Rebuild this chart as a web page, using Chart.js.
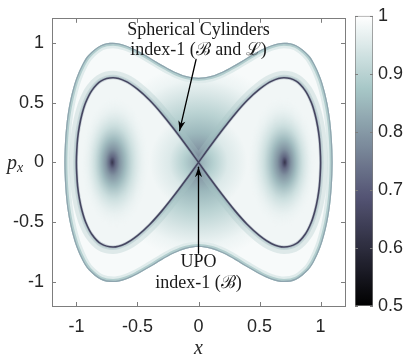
<!DOCTYPE html>
<html><head><meta charset="utf-8">
<script src="https://cdn.jsdelivr.net/npm/chart.js@4.4.1/dist/chart.umd.min.js"></script>
<style>
html,body{margin:0;padding:0;background:#fff;}
#wrap{position:relative;width:406px;height:357px;}
#wrap canvas{position:absolute;left:0;top:0;}
</style></head><body>
<div id="wrap"><canvas id="main" width="406" height="357"></canvas><canvas id="cbar" width="406" height="357"></canvas></div>
<script>
// ---------------- data ----------------
const xTicks = [-1, -0.5, 0, 0.5, 1];
const xTickLabels = ['-1', '-0.5', '0', '0.5', '1'];
const yTicks = [-1, -0.5, 0, 0.5, 1];
const yTickLabels = ['-1', '-0.5', '0', '0.5', '1'];
const cbTicks = [0.5, 0.6, 0.7, 0.8, 0.9, 1];
const cbTickLabels = ['0.5', '0.6', '0.7', '0.8', '0.9', '1'];
const cbRange = [0.5, 1];
const xRange = [-1.2, 1.2];
const yRange = [-1.2, 1.2];

// outer edge of the energy surface, first quadrant: right tip -> top -> x = 0
const boundaryQ1X = [1.099, 1.097, 1.092, 1.084, 1.072, 1.055, 1.032, 1.0, 0.95, 0.9, 0.8, 0.7, 0.6, 0.5, 0.4, 0.3, 0.2, 0.1, 0];
const boundaryQ1P = [0, 0.1, 0.2, 0.3, 0.4, 0.5, 0.6, 0.707, 0.822, 0.899, 0.98, 1.0, 0.98, 0.935, 0.877, 0.815, 0.76, 0.721, 0.707];

// dark separatrix ridge (spherical cylinders), upper half of right lobe: saddle -> top -> right tip
const sepQ1X = [0, 0.1, 0.2, 0.3, 0.4, 0.5, 0.6, 0.7, 0.8, 0.874, 0.924, 0.955, 0.976, 0.99, 0.997, 1.0];
const sepQ1P = [0, 0.141, 0.277, 0.405, 0.519, 0.612, 0.679, 0.707, 0.679, 0.6, 0.5, 0.4, 0.3, 0.2, 0.1, 0];

// dark minima at the well centres and the saddle (UPO)
const wellX = [-0.707, 0.707];
const wellP = [0, 0];
const saddle = [0, 0];

// annotation arrows (tail -> head)
const arrowSCx = [-0.02, -0.155];
const arrowSCy = [0.86, 0.265];
const arrowUPOx = [0, 0];
const arrowUPOy = [-0.76, -0.04];

// ---------------- helpers ----------------
function zipPts(xs, ys) { return xs.map((x, i) => ({x, y: ys[i]})); }
// closed curve from one quadrant using the plot's two mirror symmetries
function quadLoop(q1) {
  const q2 = q1.slice().reverse().map(p => ({x: -p.x, y: p.y})).slice(1);
  const q3 = q1.map(p => ({x: -p.x, y: -p.y})).slice(1);
  const q4 = q1.slice().reverse().map(p => ({x: p.x, y: -p.y})).slice(1);
  return q1.concat(q2, q3, q4);
}
// one lobe: upper half then lower half back to the saddle
function lobe(q1, sx) {
  const up = q1.map(p => ({x: sx * p.x, y: p.y}));
  const down = q1.slice().reverse().map(p => ({x: sx * p.x, y: -p.y})).slice(1);
  return up.concat(down);
}
// figure eight: right lobe, then through the saddle into the left lobe
function figureEight(q1) {
  const r = q1.map(p => ({x: p.x, y: p.y}))
    .concat(q1.slice().reverse().map(p => ({x: p.x, y: -p.y})).slice(1));
  const l = q1.map(p => ({x: -p.x, y: p.y})).slice(1)
    .concat(q1.slice().reverse().map(p => ({x: -p.x, y: -p.y})).slice(1));
  return r.concat(l);
}

const boundaryLoop = quadLoop(zipPts(boundaryQ1X, boundaryQ1P));
const sepQ1 = zipPts(sepQ1X, sepQ1P);
const eight = figureEight(sepQ1);
const lobeR = lobe(sepQ1, 1);
const lobeL = lobe(sepQ1, -1);

// MATLAB "bone" colormap mapped on the colour-bar range
function bone(v) {
  const t = Math.min(1, Math.max(0, (v - cbRange[0]) / (cbRange[1] - cbRange[0])));
  const hr = Math.min(1, t * 8 / 3);
  const hg = Math.min(1, Math.max(0, (t - 3 / 8) * 8 / 3));
  const hb = Math.min(1, Math.max(0, (t - 6 / 8) * 4));
  return [(7 * t + hb) / 8, (7 * t + hg) / 8, (7 * t + hr) / 8].map(c => Math.round(c * 255));
}
function boneCss(v, a) {
  const [r, g, b] = bone(v);
  return 'rgba(' + r + ',' + g + ',' + b + ',' + (a === undefined ? 1 : a) + ')';
}

const FRAME = 'rgb(125,125,125)';
const TXT = '#262626';
const SANS = "'Liberation Sans', Arial, Helvetica, sans-serif";
const SERIF = "'Liberation Serif', 'Times New Roman', 'DejaVu Serif', serif";

// style: shading stops (offset, value[, alpha])
const neckStops = [[0, 0.7], [0.06, 0.75], [0.15, 0.8], [0.3, 0.85], [0.5, 0.9], [0.7, 0.945], [0.85, 0.975], [1, 0.988]];
const lobeStops = [[0, 0.83], [0.3, 0.895], [0.6, 0.95], [1, 0.98]];
const coreStops = [[0, 0.62, 1], [0.035, 0.66, 1], [0.09, 0.72, 1], [0.2, 0.79, 1], [0.36, 0.85, 0.95], [0.56, 0.91, 0.75], [0.8, 0.955, 0.4], [1, 0.975, 0]];
const NECK_R = 0.8, LOBE_R = 0.4, CORE_RX = 0.28, CORE_RY = 0.55, CORE_SHIFT = 0.025;

function radialFromSaddle(chart, radius, stops) {
  const xs = chart.scales.x, ys = chart.scales.y;
  const cx = xs.getPixelForValue(saddle[0]), cy = ys.getPixelForValue(saddle[1]);
  const r = Math.abs(xs.getPixelForValue(saddle[0] + radius) - cx);
  const g = chart.ctx.createRadialGradient(cx, cy, 0, cx, cy, r);
  stops.forEach(s => g.addColorStop(s[0], boneCss(s[1])));
  return g;
}
const patCache = {};
function corePattern(chart, k) {
  const key = k + ':' + chart.chartArea.left + ':' + chart.chartArea.right;
  if (patCache[key]) return patCache[key];
  const xs = chart.scales.x, ys = chart.scales.y;
  const dir = Math.sign(wellX[k]);
  const ccx = xs.getPixelForValue(wellX[k] - dir * CORE_SHIFT);
  const wx = xs.getPixelForValue(wellX[k]);
  const cy = ys.getPixelForValue(wellP[k]);
  const rx = Math.abs(xs.getPixelForValue(wellX[k] + CORE_RX) - wx);
  const ry = Math.abs(ys.getPixelForValue(CORE_RY) - ys.getPixelForValue(0));
  const S = 256;
  const off = document.createElement('canvas'); off.width = S; off.height = S;
  const o = off.getContext('2d');
  const innerX = S / 2 + (wx - ccx) * S / (2 * rx);
  const g = o.createRadialGradient(innerX, S / 2, 0, S / 2, S / 2, S / 2);
  coreStops.forEach(s => g.addColorStop(s[0], boneCss(s[1], s[2])));
  o.fillStyle = g; o.fillRect(0, 0, S, S);
  const pat = chart.ctx.createPattern(off, 'no-repeat');
  pat.setTransform(new DOMMatrix().translateSelf(ccx - rx, cy - ry).scaleSelf(2 * rx / S, 2 * ry / S));
  patCache[key] = pat;
  return pat;
}
function ready(c) { return c.chart.chartArea && c.chart.scales.x; }

// ---------------- plugins ----------------
const clipInside = {
  id: 'clipInside',
  beforeDatasetDraw(chart, args) {
    if (!chart.data.datasets[args.index].clipToShape) return;
    const ctx = chart.ctx;
    ctx.save(); ctx.beginPath(); args.meta.dataset.path(ctx); ctx.closePath(); ctx.clip();
  },
  afterDatasetDraw(chart, args) {
    if (!chart.data.datasets[args.index].clipToShape) return;
    chart.ctx.restore();
  }
};
const arrowHeads = {
  id: 'arrowHeads',
  afterDatasetDraw(chart, args) {
    if (!chart.data.datasets[args.index].arrow) return;
    const pts = args.meta.data; const n = pts.length;
    const a = pts[n - 2], b = pts[n - 1];
    const ang = Math.atan2(b.y - a.y, b.x - a.x);
    const L = 10, W = 3.6, ctx = chart.ctx;
    ctx.save(); ctx.fillStyle = '#000';
    ctx.beginPath(); ctx.moveTo(b.x, b.y);
    ctx.lineTo(b.x - L * Math.cos(ang) + W * Math.sin(ang), b.y - L * Math.sin(ang) - W * Math.cos(ang));
    ctx.lineTo(b.x - 0.7 * L * Math.cos(ang), b.y - 0.7 * L * Math.sin(ang));
    ctx.lineTo(b.x - L * Math.cos(ang) - W * Math.sin(ang), b.y - L * Math.sin(ang) + W * Math.cos(ang));
    ctx.closePath(); ctx.fill(); ctx.restore();
  }
};
const notes = [
  {text: 'Spherical Cylinders', x: 0, y: 1.107},
  {text: 'index-1 (\u212C and \u2112)', x: 0, y: 0.934},
  {text: 'UPO', x: 0, y: -0.836},
  {text: 'index-1 (\u212C)', x: 0, y: -1.008}
];
const decor = {
  id: 'decor',
  afterDraw(chart) {
    const {ctx, chartArea: a, scales: {x, y}} = chart;
    ctx.save();
    // inward tick marks on all four sides
    ctx.strokeStyle = FRAME; ctx.lineWidth = 1; ctx.beginPath();
    xTicks.forEach(v => { const px = Math.round(x.getPixelForValue(v)) + 0.5;
      ctx.moveTo(px, a.bottom); ctx.lineTo(px, a.bottom - 4); ctx.moveTo(px, a.top); ctx.lineTo(px, a.top + 4); });
    yTicks.forEach(v => { const py = Math.round(y.getPixelForValue(v)) + 0.5;
      ctx.moveTo(a.left, py); ctx.lineTo(a.left + 4, py); ctx.moveTo(a.right, py); ctx.lineTo(a.right - 4, py); });
    ctx.stroke();
    // annotations
    ctx.fillStyle = '#1a1a1a'; ctx.font = '18px ' + SERIF; ctx.textAlign = 'center'; ctx.textBaseline = 'middle';
    notes.forEach(n => ctx.fillText(n.text, x.getPixelForValue(n.x), y.getPixelForValue(n.y)));
    // axis titles
    ctx.fillStyle = TXT;
    ctx.font = 'italic 20px ' + SERIF;
    ctx.fillText('x', x.getPixelForValue(0), a.bottom + 43);
    ctx.textAlign = 'left';
    const py0 = y.getPixelForValue(0);
    ctx.fillText('p', a.left - 45, py0 + 1);
    ctx.font = 'italic 14px ' + SERIF;
    ctx.fillText('x', a.left - 35, py0 + 6);
    ctx.restore();
  }
};

// ---------------- main chart ----------------
const base = {showLine: true, pointRadius: 0, pointBackgroundColor: 'transparent', tension: 0.35, fill: false, borderJoinStyle: 'round', borderCapStyle: 'round'};
const datasets = [
  Object.assign({}, base, {label: 'energy surface', data: boundaryLoop, fill: 'shape', clipToShape: true,
    backgroundColor: c => ready(c) ? radialFromSaddle(c.chart, NECK_R, neckStops) : boneCss(0.95),
    borderColor: boneCss(0.955), borderWidth: 11, order: 20}),
  Object.assign({}, base, {label: 'rim 2', data: boundaryLoop, clipToShape: true, borderColor: boneCss(0.89), borderWidth: 6, order: 19}),
  Object.assign({}, base, {label: 'rim 3', data: boundaryLoop, clipToShape: true, borderColor: boneCss(0.82), borderWidth: 2.5, order: 18}),
  Object.assign({}, base, {label: 'halo 1', data: eight, borderColor: boneCss(0.87, 0.3), borderWidth: 14, order: 15}),
  Object.assign({}, base, {label: 'halo 2', data: eight, borderColor: boneCss(0.85, 0.35), borderWidth: 6, order: 14}),
  Object.assign({}, base, {label: 'lobes', data: eight, fill: 'shape', borderWidth: 0,
    backgroundColor: c => ready(c) ? radialFromSaddle(c.chart, LOBE_R, lobeStops) : boneCss(0.975), order: 12}),
  Object.assign({}, base, {label: 'core right', data: lobeR, fill: 'shape', borderWidth: 0,
    backgroundColor: c => ready(c) ? corePattern(c.chart, 1) : 'transparent', order: 11}),
  Object.assign({}, base, {label: 'core left', data: lobeL, fill: 'shape', borderWidth: 0,
    backgroundColor: c => ready(c) ? corePattern(c.chart, 0) : 'transparent', order: 10}),
  Object.assign({}, base, {label: 'ridge glow', data: eight, borderColor: boneCss(0.78, 0.35), borderWidth: 3, order: 3}),
  Object.assign({}, base, {label: 'ridge', data: eight, borderColor: boneCss(0.655), borderWidth: 1.6, order: 2}),
  Object.assign({}, base, {label: 'arrow SC', data: zipPts(arrowSCx, arrowSCy), tension: 0, borderColor: '#000', borderWidth: 1.3, arrow: true, order: 1}),
  Object.assign({}, base, {label: 'arrow UPO', data: zipPts(arrowUPOx, arrowUPOy), tension: 0, borderColor: '#000', borderWidth: 1.3, arrow: true, order: 0})
];

const tickFont = {family: SANS, size: 18};
function hidden(pos, fit) {
  return {type: 'linear', position: pos, min: pos === 'top' || pos === 'bottom' ? xRange[0] : yRange[0],
    max: pos === 'top' || pos === 'bottom' ? xRange[1] : yRange[1],
    ticks: {display: false}, grid: {display: false, drawTicks: false},
    border: {display: true, color: FRAME, width: 1}, afterFit: fit};
}
new Chart(document.getElementById('main'), {
  type: 'line',
  data: {datasets},
  options: {
    responsive: false, animation: false, devicePixelRatio: 1, events: [],
    layout: {padding: 0, autoPadding: false},
    plugins: {legend: {display: false}, tooltip: {enabled: false}},
    scales: {
      x: {type: 'linear', position: 'bottom', min: xRange[0], max: xRange[1],
        afterBuildTicks: s => { s.ticks = xTicks.map(v => ({value: v})); },
        ticks: {callback: v => xTickLabels[xTicks.indexOf(v)], padding: 10, font: tickFont, color: TXT, maxRotation: 0, autoSkip: false},
        grid: {display: false, drawTicks: false}, border: {display: true, color: FRAME, width: 1},
        afterFit: s => { s.height = 51; }},
      x2: hidden('top', s => { s.height = 13; }),
      y: {type: 'linear', position: 'left', min: yRange[0], max: yRange[1],
        afterBuildTicks: s => { s.ticks = yTicks.map(v => ({value: v})); },
        ticks: {callback: v => yTickLabels[yTicks.indexOf(v)], padding: 8, font: tickFont, color: TXT, autoSkip: false},
        grid: {display: false, drawTicks: false}, border: {display: true, color: FRAME, width: 1},
        afterFit: s => { s.width = 52; }},
      y2: hidden('right', s => { s.width = 61; })
    }
  },
  plugins: [clipInside, arrowHeads, decor]
});

// ---------------- colour bar ----------------
const cbTicksPlugin = {
  id: 'cbTicks',
  afterDraw(chart) {
    const {ctx, chartArea: a, scales: {y}} = chart;
    ctx.save(); ctx.strokeStyle = FRAME; ctx.lineWidth = 1; ctx.beginPath();
    cbTicks.forEach(v => { const py = Math.round(y.getPixelForValue(v)) + 0.5;
      ctx.moveTo(a.right, py); ctx.lineTo(a.right - 3, py); ctx.moveTo(a.left, py); ctx.lineTo(a.left + 3, py); });
    ctx.stroke(); ctx.restore();
  }
};
new Chart(document.getElementById('cbar'), {
  type: 'bar',
  data: {labels: ['LD'], datasets: [{
    data: [cbRange],
    backgroundColor: c => {
      if (!c.chart.chartArea) return '#888';
      const y = c.chart.scales.y;
      const g = c.chart.ctx.createLinearGradient(0, y.getPixelForValue(cbRange[0]), 0, y.getPixelForValue(cbRange[1]));
      for (let i = 0; i <= 40; i++) g.addColorStop(i / 40, boneCss(cbRange[0] + (cbRange[1] - cbRange[0]) * i / 40));
      return g;
    },
    borderColor: FRAME, borderWidth: 1, borderSkipped: false, barPercentage: 1, categoryPercentage: 1
  }]},
  options: {
    responsive: false, animation: false, devicePixelRatio: 1, events: [],
    layout: {padding: {left: 355, top: 14, bottom: 51, right: 0}, autoPadding: false},
    plugins: {legend: {display: false}, tooltip: {enabled: false}},
    scales: {
      x: {display: false},
      y: {position: 'right', min: cbRange[0], max: cbRange[1],
        afterBuildTicks: s => { s.ticks = cbTicks.map(v => ({value: v})); },
        ticks: {callback: v => cbTickLabels[cbTicks.indexOf(v)], padding: 5, font: tickFont, color: TXT, autoSkip: false},
        grid: {display: false, drawTicks: false}, border: {display: false},
        afterFit: s => { s.width = 33; }}
    }
  },
  plugins: [cbTicksPlugin]
});
</script>
</body></html>
